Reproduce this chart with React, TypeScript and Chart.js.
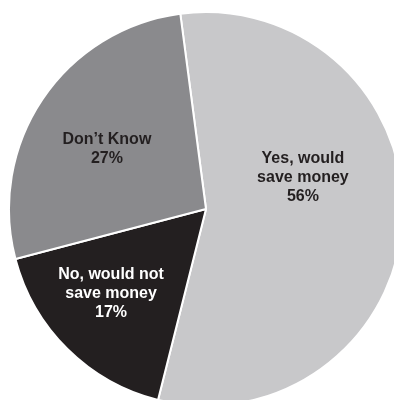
import React, { useEffect, useRef } from "react";
import { Chart, registerables } from "chart.js";

Chart.register(...registerables);

const categories = ["Yes, would save money", "No, would not save money", "Don't Know"];
const values = [56, 17, 27];
const labelLines = [
  ["Yes, would", "save money", "56%"],
  ["No, would not", "save money", "17%"],
  ["Don\u2019t Know", "27%"],
];
const colors = ["#c8c8ca", "#231f20", "#8a8a8d"];
const textColors = ["#231f20", "#ffffff", "#231f20"];
// label block centre as a fraction of the radius, relative to the pie centre
const labelOffsets = [
  [0.492, -0.157],
  [-0.482, 0.431],
  [-0.503, -0.302],
];

const labelPlugin = {
  id: "sliceLabels",
  afterDatasetsDraw(chart: any) {
    const meta = chart.getDatasetMeta(0);
    const ctx = chart.ctx;
    ctx.save();
    ctx.font = "bold 16px 'Liberation Sans', Arial, sans-serif";
    ctx.textAlign = "center";
    ctx.textBaseline = "middle";
    const lh = 19;
    meta.data.forEach((arc: any, i: number) => {
      const r = arc.outerRadius;
      const cx = arc.x + labelOffsets[i][0] * r;
      const cy = arc.y + labelOffsets[i][1] * r;
      const lines = labelLines[i];
      const start = cy - ((lines.length - 1) * lh) / 2;
      ctx.fillStyle = textColors[i];
      lines.forEach((t, j) => ctx.fillText(t, cx, start + j * lh));
    });
    ctx.restore();
  },
};

export default function App() {
  const ref = useRef<HTMLCanvasElement>(null);
  useEffect(() => {
    if (!ref.current) return;
    const chart = new Chart(ref.current, {
      type: "pie",
      data: {
        labels: categories,
        datasets: [
          {
            data: values,
            backgroundColor: colors,
            borderColor: "#ffffff",
            borderWidth: 2,
          },
        ],
      },
      options: {
        responsive: false,
        animation: false,
        rotation: -7.5,
        layout: { padding: 0 },
        plugins: {
          legend: { display: false },
          tooltip: { enabled: false },
        },
      },
      plugins: [labelPlugin],
    });
    return () => chart.destroy();
  }, []);
  return (
    <div style={{ position: "absolute", left: 8, top: 11, width: 396, height: 396 }}>
      <canvas ref={ref} width={396} height={396} />
    </div>
  );
}
